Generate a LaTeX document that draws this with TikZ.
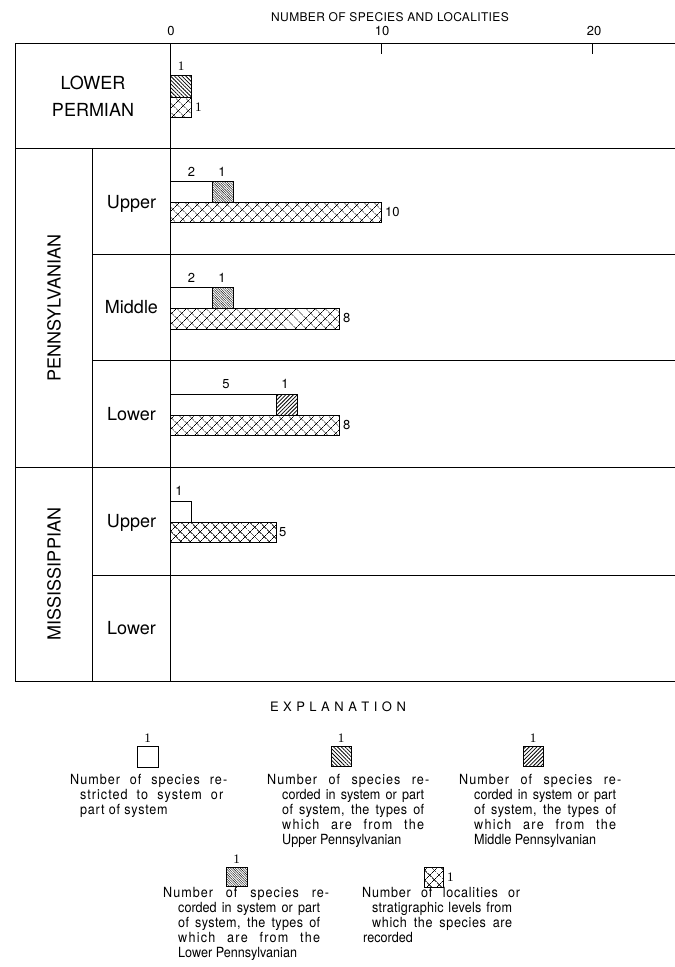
\documentclass[tikz,border=0pt]{standalone}
\usepackage{fontspec}
\usepackage{graphicx}
\setmainfont{TeX Gyre Heros}
\newfontfamily\numrm{Liberation Serif}
\usetikzlibrary{patterns.meta}
\tikzset{
  fr/.style={line width=0.9pt},
  bx/.style={draw, line width=0.8pt},
  upat/.style={bx, pattern={Lines[angle=-45,distance=2.7pt,line width=0.75pt]}},
  mpat/.style={bx, pattern={Lines[angle=45,distance=2.7pt,line width=0.8pt]}},
  lpat/.style={bx, pattern={Lines[angle=-45,distance=1.7pt,line width=0.4pt]}},
  xhatch/.style={pattern={Hatch[angle=45,distance=7.4pt,line width=0.6pt]}},
  xdots/.style={pattern={Dots[angle=45,distance=7.4pt,radius=0.5pt,xshift=3.7pt,yshift=3.7pt]}},
  big/.style={font=\fontsize{18}{20}\selectfont, inner sep=0pt, text height=13pt, text depth=0pt},
  num/.style={font=\fontsize{13}{15}\selectfont, inner sep=0pt, text height=9.3pt, text depth=0pt},
  one/.style={font=\numrm\fontsize{13}{15}\selectfont, inner sep=0pt, text height=8.6pt, text depth=0pt},
  leg/.style={font=\fontsize{14}{16}\selectfont, inner sep=0pt, anchor=base west},
}
\newcommand\xbar[2]{\path[xhatch] #1 rectangle #2; \path[xdots] #1 rectangle #2; \draw[bx] #1 rectangle #2;}
\newcommand\ljust[3]{\scalebox{0.9}[1]{\addfontfeature{LetterSpace=#2}\makebox[\dimexpr #1pt*10/9\relax][s]{#3}}}
\newcommand\lnat[2]{\scalebox{0.9}[1]{\addfontfeature{LetterSpace=#1}#2}}
\begin{document}
\begin{tikzpicture}[x=1pt,y=-1pt]
\useasboundingbox (0,0) rectangle (675,967);
% axis title and scale
\node[num,font=\fontsize{12}{14}\selectfont\addfontfeature{LetterSpace=3}] (title) at (390,17) {NUMBER OF SPECIES AND LOCALITIES};
\node[num] (t0) at (171,31) {0};
\node[num] (t10) at (382,31) {10};
\node[num] (t20) at (594,31) {20};
% frame
\draw[fr] (15,43) -- (675,43);
\draw[fr] (15,43) -- (15,681) -- (675,681);
\draw[fr] (15,148.5) -- (675,148.5);
\draw[fr] (15,467) -- (675,467);
\draw[fr] (92.5,148.5) -- (92.5,681);
\draw[fr] (92.5,254.5) -- (675,254.5);
\draw[fr] (92.5,360) -- (675,360);
\draw[fr] (92.5,575) -- (675,575);
\draw[fr] (170.5,43) -- (170.5,681);
\draw[fr] (381.5,43) -- (381.5,54);
\draw[fr] (592.5,43) -- (592.5,54);
% row labels
\node[big] (lowerA) at (93,82.5) {LOWER};
\node[big] (permian) at (93,109.5) {PERMIAN};
\node[big,rotate=90] (penn) at (54,308) {PENNSYLVANIAN};
\node[big,rotate=90] (miss) at (54,574) {MISSISSIPPIAN};
\node[big] (pu) at (131.5,201.5) {Upper};
\node[big] (pm) at (131.5,307) {Middle};
\node[big] (pl) at (131.5,413.5) {Lower};
\node[big] (mu) at (131.5,521) {Upper};
\node[big] (ml) at (131.5,628) {Lower};
% Lower Permian bars
\draw[upat] (170.5,75) rectangle (191.6,97);
\xbar{(170.5,97)}{(191.6,117)}
\node[one] (lpa) at (181,66) {1};
\node[one,anchor=west] (lpb) at (195,107) {1};
% Upper Pennsylvanian
\draw[bx] (170.5,181) rectangle (212.7,202);
\draw[lpat] (212.7,181) rectangle (233.8,202);
\xbar{(170.5,202)}{(381.5,222)}
\node[num] (upa) at (191.5,172) {2};
\node[num] (upb) at (222,172) {1};
\node[num,anchor=west] (upc) at (385,212) {10};
% Middle Pennsylvanian
\draw[bx] (170.5,287) rectangle (212.7,308);
\draw[lpat] (212.7,287) rectangle (233.8,308);
\xbar{(170.5,308)}{(339.3,329)}
\node[num] (mpa) at (191.5,278) {2};
\node[num] (mpb) at (222,278) {1};
\node[num,anchor=west] (mpc) at (343,318) {8};
% Lower Pennsylvanian
\draw[bx] (170.5,394) rectangle (276,415);
\draw[mpat] (276,394) rectangle (297.1,415);
\xbar{(170.5,415)}{(339.3,435)}
\node[num] (lpna) at (226,384) {5};
\node[num] (lpnb) at (285,384) {1};
\node[num,anchor=west] (lpnc) at (343,425) {8};
% Upper Mississippian
\draw[bx] (170.5,501) rectangle (191.6,522);
\xbar{(170.5,522)}{(276,542)}
\node[num] (mua) at (179,491) {1};
\node[num,anchor=west] (mub) at (279,532) {5};
% Explanation
\node[num] (expl) at (338,707) {\makebox[136pt][s]{E X P L A N A T I O N}};
% item 1
\node[one] (i1n) at (147.5,738) {1};
\draw[bx] (137,746) rectangle (158,767);
\node[leg] (i1a) at (70,784) {\ljust{157}{8}{Number of species re-}};
\node[leg] (i1b) at (80,799) {\ljust{143}{8}{stricted to system or}};
\node[leg] (i1c) at (80,814) {\lnat{6}{part of system}};
% item 2
\node[one] (i2n) at (341,738) {1};
\draw[upat] (331,746) rectangle (351,766);
\node[leg] (i2a) at (267,784) {\ljust{162}{8}{Number of species re-}};
\node[leg] (i2b) at (282,799) {\ljust{142}{0}{corded in system or part}};
\node[leg] (i2c) at (282,814) {\ljust{142}{3}{of system, the types of}};
\node[leg] (i2d) at (282,829) {\ljust{142}{10}{which are from the}};
\node[leg] (i2e) at (282,844) {\lnat{0}{Upper Pennsylvanian}};
% item 3
\node[one] (i3n) at (533,738) {1};
\draw[mpat] (523,746) rectangle (543,766);
\node[leg] (i3a) at (459,784) {\ljust{162}{8}{Number of species re-}};
\node[leg] (i3b) at (474,799) {\ljust{142}{0}{corded in system or part}};
\node[leg] (i3c) at (474,814) {\ljust{142}{3}{of system, the types of}};
\node[leg] (i3d) at (474,829) {\ljust{142}{10}{which are from the}};
\node[leg] (i3e) at (474,844) {\lnat{0}{Middle Pennsylvanian}};
% item 4
\node[one] (i4n) at (236.5,859) {1};
\draw[lpat] (226,867) rectangle (247,886);
\node[leg] (i4a) at (163,897) {\ljust{166}{8}{Number of species re-}};
\node[leg] (i4b) at (178,912) {\ljust{142}{0}{corded in system or part}};
\node[leg] (i4c) at (178,927) {\ljust{142}{3}{of system, the types of}};
\node[leg] (i4d) at (178,942) {\ljust{142}{10}{which are from the}};
\node[leg] (i4e) at (178,957) {\lnat{0}{Lower Pennsylvanian}};
% item 5
\xbar{(424,867)}{(443,887)}
\node[one,anchor=west] (i5n) at (447,877) {1};
\node[leg] (i5a) at (362,897) {\ljust{158}{6}{Number of localities or}};
\node[leg] (i5b) at (372,912) {\ljust{140}{2}{stratigraphic levels from}};
\node[leg] (i5c) at (372,927) {\ljust{140}{5}{which the species are}};
\node[leg] (i5d) at (363,942) {\lnat{0}{recorded}};
\end{tikzpicture}
\end{document}
